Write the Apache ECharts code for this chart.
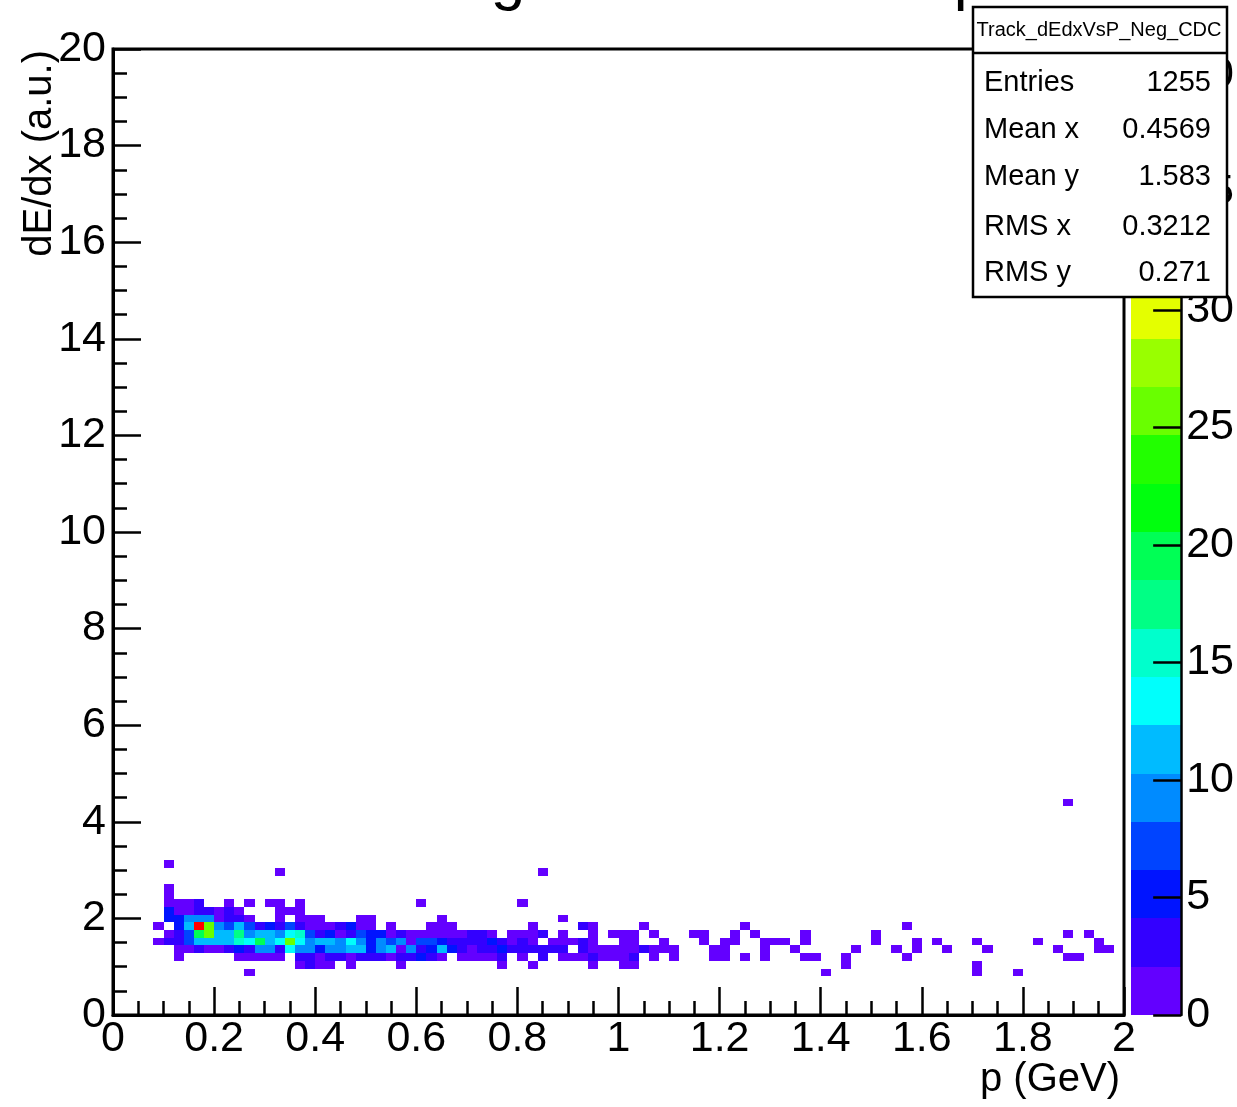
<!DOCTYPE html>
<html>
<head>
<meta charset="utf-8">
<title>Track_dEdxVsP_Neg_CDC</title>
<script src="https://cdn.jsdelivr.net/npm/echarts@6.0.0/dist/echarts.min.js"></script>
<style>
  html, body { margin: 0; padding: 0; background: #fff; }
  #main { width: 1237px; height: 1107px; }
</style>
</head>
<body>
<div id="main"></div>
<script>
// TH2 binning: p 0..2 in 0.02 steps, dE/dx 0..20 in 0.16 steps
var X_BIN = 0.02;
var Y_BIN = 0.16;
var Z_MAX = 41.1;

// cells per dE/dx bin : [p bin, entries]
var row05 = [[13,1],[70,1],[85,1],[89,1]];
var row06 = [[18,1],[19,3],[20,1],[21,1],[23,1],[28,1],[38,1],[41,1],[47,1],[50,1],[51,1],[72,1],[85,1]];
var row07 = [[6,1],[12,1],[13,1],[14,1],[15,1],[16,1],[18,3],[19,3],[20,1],[21,3],[22,3],[23,1],[24,3],[25,3],[26,3],[27,1],[28,3],[29,3],[30,5],[31,3],[32,1],[34,1],[35,1],[36,1],[37,1],[38,3],[40,1],[42,3],[44,1],[45,1],[46,1],[47,3],[48,1],[49,1],[50,1],[51,3],[53,1],[55,1],[59,1],[60,1],[62,1],[64,1],[68,1],[69,1],[72,1],[78,1],[94,1],[95,1]];
var row08 = [[6,1],[7,2],[8,3],[9,1],[10,1],[11,3],[12,5],[13,3],[14,9],[15,9],[16,3],[17,13],[18,9],[19,9],[20,5],[21,9],[22,9],[23,11],[24,11],[25,5],[26,9],[27,11],[28,1],[29,9],[30,3],[31,5],[32,11],[33,5],[34,3],[35,1],[36,3],[37,3],[38,5],[39,3],[40,3],[41,3],[42,3],[43,3],[44,3],[46,3],[47,1],[48,1],[49,2],[50,1],[51,1],[52,3],[53,1],[54,1],[55,1],[59,1],[60,1],[64,1],[67,1],[73,1],[77,1],[79,1],[82,1],[86,1],[93,1],[97,1],[98,1]];
var row09 = [[4,1],[5,3],[6,3],[7,7],[8,11],[9,11],[10,11],[11,11],[12,15],[13,13],[14,19],[15,11],[16,13],[17,25],[18,13],[19,9],[20,11],[21,11],[22,9],[23,13],[24,9],[25,5],[26,9],[27,7],[28,9],[29,1],[30,7],[31,7],[32,5],[33,3],[34,3],[35,3],[36,3],[37,5],[38,3],[39,1],[40,3],[41,2],[43,1],[44,2],[45,1],[46,3],[47,1],[50,1],[51,1],[54,1],[58,1],[60,1],[61,1],[64,1],[65,1],[66,1],[68,1],[75,1],[79,1],[81,1],[85,1],[91,1],[97,1]];
var row10 = [[5,1],[6,3],[7,7],[8,19],[9,25],[10,11],[11,11],[12,17],[13,9],[14,11],[15,11],[16,9],[17,13],[18,15],[19,7],[20,3],[21,5],[22,1],[23,3],[24,7],[25,5],[26,5],[27,1],[28,3],[29,1],[30,2],[31,1],[32,1],[33,2],[34,1],[35,3],[36,3],[37,1],[39,1],[40,2],[41,1],[42,3],[44,1],[47,1],[49,1],[50,1],[51,1],[53,1],[57,1],[58,1],[61,1],[63,1],[68,1],[75,1],[94,1],[96,1]];
var row11 = [[4,1],[6,5],[7,11],[8,40],[9,25],[10,9],[11,7],[12,11],[13,7],[14,3],[15,5],[16,3],[17,7],[18,3],[19,2],[20,2],[21,1],[22,3],[23,5],[24,2],[25,1],[27,1],[31,1],[32,1],[33,1],[41,1],[46,3],[47,1],[52,1],[62,1],[78,1]];
var row12 = [[5,5],[6,5],[7,9],[8,9],[9,9],[10,2],[11,3],[12,3],[13,1],[16,1],[18,1],[19,1],[20,1],[24,1],[25,1],[32,1],[44,1]];
var row13 = [[5,5],[6,2],[7,2],[8,3],[9,3],[10,2],[11,3],[12,1],[16,1],[17,1],[18,1]];
var row14 = [[5,1],[6,1],[7,2],[8,3],[11,1],[13,1],[15,1],[16,1],[18,1],[30,1],[40,1]];
var row15 = [[5,1]];
var row16 = [[5,1]];
var row18 = [[16,1],[42,1]];
var row19 = [[5,1]];
var row27 = [[94,1]];

// ROOT pretty palette, 20 contour levels
var paletteColors = ['#6300ff','#3300ff','#0014ff','#0044ff','#008bff','#00bbff','#00fffc','#00ffcc','#00ff85','#00ff55',
                     '#00ff0e','#22ff00','#69ff00','#99ff00','#e4ff00','#ffee00','#ffa700','#ff7700','#ff3000','#ff0000'];

var statNames = ['Entries', 'Mean x', 'Mean y', 'RMS x', 'RMS y'];
var statValues = ['1255', '0.4569', '1.583', '0.3212', '0.271'];

var FONT = '"Liberation Sans", Arial, Helvetica, sans-serif';

var rows = [[5,row05],[6,row06],[7,row07],[8,row08],[9,row09],[10,row10],[11,row11],[12,row12],
            [13,row13],[14,row14],[15,row15],[16,row16],[18,row18],[19,row19],[27,row27]];
var cells = [];
rows.forEach(function (r) {
  r[1].forEach(function (c) {
    cells.push([c[0], r[0], c[1]]);
  });
});

var dz = Z_MAX / paletteColors.length;
var pieces = paletteColors.map(function (c, k) {
  return { gte: k * dz, lt: (k + 1) * dz, color: c };
});
pieces[pieces.length - 1].lte = Z_MAX;
var levels = paletteColors.map(function (c, k) { return [k]; });

function renderCell(params, api) {
  var ix = api.value(0), iy = api.value(1);
  var p0 = api.coord([ix * X_BIN, (iy + 1) * Y_BIN]);
  var p1 = api.coord([(ix + 1) * X_BIN, iy * Y_BIN]);
  var x0 = Math.round(p0[0]), y0 = Math.round(p0[1]);
  var x1 = Math.round(p1[0]), y1 = Math.round(p1[1]);
  return {
    type: 'rect',
    shape: { x: x0, y: y0, width: x1 - x0, height: y1 - y0 },
    style: { fill: api.visual('color') }
  };
}

function renderBand(params, api) {
  var k = api.value(0);
  var p0 = api.coord([0, (k + 1) * dz]);
  var p1 = api.coord([1, k * dz]);
  return {
    type: 'rect',
    shape: { x: p0[0], y: Math.round(p0[1]), width: p1[0] - p0[0], height: Math.round(p1[1]) - Math.round(p0[1]) },
    style: { fill: paletteColors[k] }
  };
}

var tickStyle = { color: '#000', width: 2.5 };
var labelStyle = { fontSize: 43, color: '#000', fontFamily: FONT };

// stats box
var statsBox = [
  { type: 'rect', z: 100, shape: { x: 973, y: 7, width: 254, height: 290 },
    style: { fill: '#fff', stroke: '#000', lineWidth: 2.5 } },
  { type: 'line', z: 101, shape: { x1: 973, y1: 53, x2: 1227, y2: 53 },
    style: { stroke: '#000', lineWidth: 2.5 } },
  { type: 'text', z: 101, x: 1099, y: 30,
    style: { text: 'Track_dEdxVsP_Neg_CDC', fontSize: 20, fontFamily: FONT, fill: '#000',
             textAlign: 'center', align: 'center', textVerticalAlign: 'middle', verticalAlign: 'middle' } }
];
var statY = [83, 130, 177, 227, 273];
statNames.forEach(function (name, i) {
  statsBox.push({ type: 'text', z: 101, x: 984, y: statY[i],
    style: { text: name, fontSize: 29, fontFamily: FONT, fill: '#000',
             textAlign: 'left', align: 'left', textVerticalAlign: 'middle', verticalAlign: 'middle' } });
  statsBox.push({ type: 'text', z: 101, x: 1211, y: statY[i],
    style: { text: statValues[i], fontSize: 29, fontFamily: FONT, fill: '#000',
             textAlign: 'right', align: 'right', textVerticalAlign: 'middle', verticalAlign: 'middle' } });
});

var myChart = echarts.init(document.getElementById('main'));
myChart.setOption({
  backgroundColor: '#fff',
  animation: false,
  textStyle: { fontFamily: FONT },
  grid: [
    { left: 113, top: 49, width: 1011, height: 966, show: true, borderColor: '#000', borderWidth: 3, backgroundColor: 'transparent' },
    { left: 1131, top: 49, width: 56, height: 966 }
  ],
  xAxis: [
    { gridIndex: 0, type: 'value', min: 0, max: 2, interval: 0.2, z: 10,
      axisLine: { onZero: false, lineStyle: { color: '#000', width: 3 } },
      axisTick: { inside: true, length: 28, lineStyle: tickStyle },
      minorTick: { show: true, splitNumber: 4, length: 14, lineStyle: tickStyle },
      splitLine: { show: false },
      axisLabel: Object.assign({ margin: 3 }, labelStyle) },
    { gridIndex: 1, type: 'value', min: 0, max: 1, show: false }
  ],
  yAxis: [
    { gridIndex: 0, type: 'value', min: 0, max: 20, interval: 2, z: 10,
      axisLine: { onZero: false, lineStyle: { color: '#000', width: 3 } },
      axisTick: { inside: true, length: 28, lineStyle: tickStyle },
      minorTick: { show: true, splitNumber: 4, length: 14, lineStyle: tickStyle },
      splitLine: { show: false },
      axisLabel: Object.assign({ margin: 7 }, labelStyle) },
    { gridIndex: 1, type: 'value', min: 0, max: Z_MAX, interval: 5, position: 'right', z: 10,
      axisLine: { show: true, onZero: false, lineStyle: { color: '#000', width: 2.5 } },
      axisTick: { show: true, inside: true, length: 28, lineStyle: tickStyle },
      splitLine: { show: false },
      axisLabel: Object.assign({ margin: 5, showMaxLabel: false,
        formatter: function (v) { return v % 5 === 0 ? String(v) : ''; } }, labelStyle) }
  ],
  visualMap: { type: 'piecewise', show: false, dimension: 2, seriesIndex: 0, pieces: pieces },
  series: [
    { type: 'custom', name: 'Track_dEdxVsP_Neg_CDC', xAxisIndex: 0, yAxisIndex: 0, clip: true,
      renderItem: renderCell, data: cells },
    { type: 'custom', name: 'palette', xAxisIndex: 1, yAxisIndex: 1, silent: true,
      renderItem: renderBand, data: levels }
  ],
  graphic: [
    // title, only its lower edge is inside the canvas
    { type: 'text', z: 50, x: 612, y: -19,
      style: { text: 'dE/dx Negative Tracks vs p', fontSize: 62, fontFamily: FONT, fill: '#000',
               textAlign: 'center', align: 'center', textVerticalAlign: 'middle', verticalAlign: 'middle' } },
    { type: 'text', z: 50, x: 60, y: 50, rotation: Math.PI / 2,
      style: { text: 'dE/dx (a.u.)', fontSize: 40, fontFamily: FONT, fill: '#000',
               textAlign: 'right', align: 'right', textVerticalAlign: 'bottom', verticalAlign: 'bottom' } },
    { type: 'text', z: 50, x: 1120, y: 1100,
      style: { text: 'p (GeV)', fontSize: 40, fontFamily: FONT, fill: '#000',
               textAlign: 'right', align: 'right', textVerticalAlign: 'bottom', verticalAlign: 'bottom' } }
  ].concat(statsBox)
});
</script>
</body>
</html>
